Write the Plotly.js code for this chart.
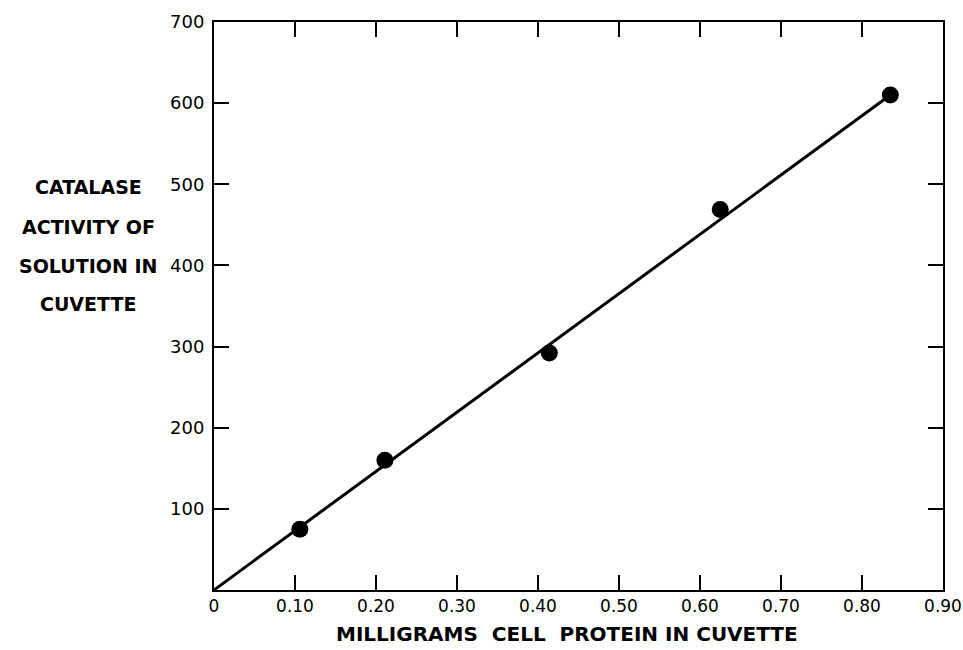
<!DOCTYPE html>
<html>
<head>
<meta charset="utf-8">
<script src="https://cdn.plot.ly/plotly-3.0.1.min.js"></script>
<style>html,body{margin:0;padding:0;background:#fff;}#chart{width:963px;height:650px;}</style>
</head>
<body>
<div id="chart"></div>
<script>
// Data
const proteinMg = [0.106, 0.211, 0.414, 0.625, 0.835];
const catalaseActivity = [75, 160, 292, 469, 610];
const fitLineX = [0, 0.835];
const fitLineY = [0, 610];
const xTickVals = [0, 0.1, 0.2, 0.3, 0.4, 0.5, 0.6, 0.7, 0.8, 0.9];
const xTickText = ["0", "0.10", "0.20", "0.30", "0.40", "0.50", "0.60", "0.70", "0.80", "0.90"];
const yTickVals = [100, 200, 300, 400, 500, 600, 700];
const yTickText = ["100", "200", "300", "400", "500", "600", "700"];
const xTitle = "MILLIGRAMS  CELL  PROTEIN IN CUVETTE";
const yTitleLines = ["CATALASE", "ACTIVITY OF", "SOLUTION IN", "CUVETTE"];

const fontFam = "DejaVu Sans, sans-serif";

const traces = [
  {x: fitLineX, y: fitLineY, mode: "lines", type: "scatter",
   line: {color: "#000", width: 3}, hoverinfo: "skip", showlegend: false},
  {x: proteinMg, y: catalaseActivity, mode: "markers", type: "scatter",
   marker: {color: "#000", size: 17}, showlegend: false}
];

const axisCommon = {
  showline: true, linecolor: "#000", linewidth: 2,
  mirror: "ticks", ticks: "inside", ticklen: 15, tickwidth: 2, tickcolor: "#000",
  showgrid: false, zeroline: false
};

const plotLeft = 214, plotW = 729, plotTop = 22, plotH = 568;
const px = (x) => (x - plotLeft) / plotW;
const py = (y) => 1 - (y - plotTop) / plotH;
const yLinePix = [187, 227, 266, 304];
const annotations = yTitleLines.map((t, i) => ({
  xref: "paper", yref: "paper", x: px(88), y: py(yLinePix[i]),
  xanchor: "center", yanchor: "middle", text: t, showarrow: false,
  font: {family: fontFam, size: 19, color: "#000", weight: "bold"}
}));
annotations.push({
  xref: "paper", yref: "paper", x: px(567), y: py(634),
  xanchor: "center", yanchor: "middle", text: xTitle, showarrow: false,
  font: {family: fontFam, size: 20, color: "#000", weight: "bold"}
});

const layout = {
  width: 963, height: 650,
  margin: {l: 214, r: 20, t: 22, b: 60},
  paper_bgcolor: "#fff", plot_bgcolor: "#fff",
  xaxis: Object.assign({}, axisCommon, {
    range: [0, 0.9], tickmode: "array", tickvals: xTickVals, ticktext: xTickText,
    tickfont: {family: fontFam, size: 17, color: "#000"},
    ticklabeloverflow: "allow"
  }),
  yaxis: Object.assign({}, axisCommon, {
    range: [0, 700], tickmode: "array", tickvals: yTickVals, ticktext: yTickText,
    tickfont: {family: fontFam, size: 18, color: "#000"},
    ticklabelstandoff: 4
  }),
  annotations: annotations
};

Plotly.newPlot("chart", traces, layout, {displayModeBar: false, staticPlot: true});
</script>
</body>
</html>
